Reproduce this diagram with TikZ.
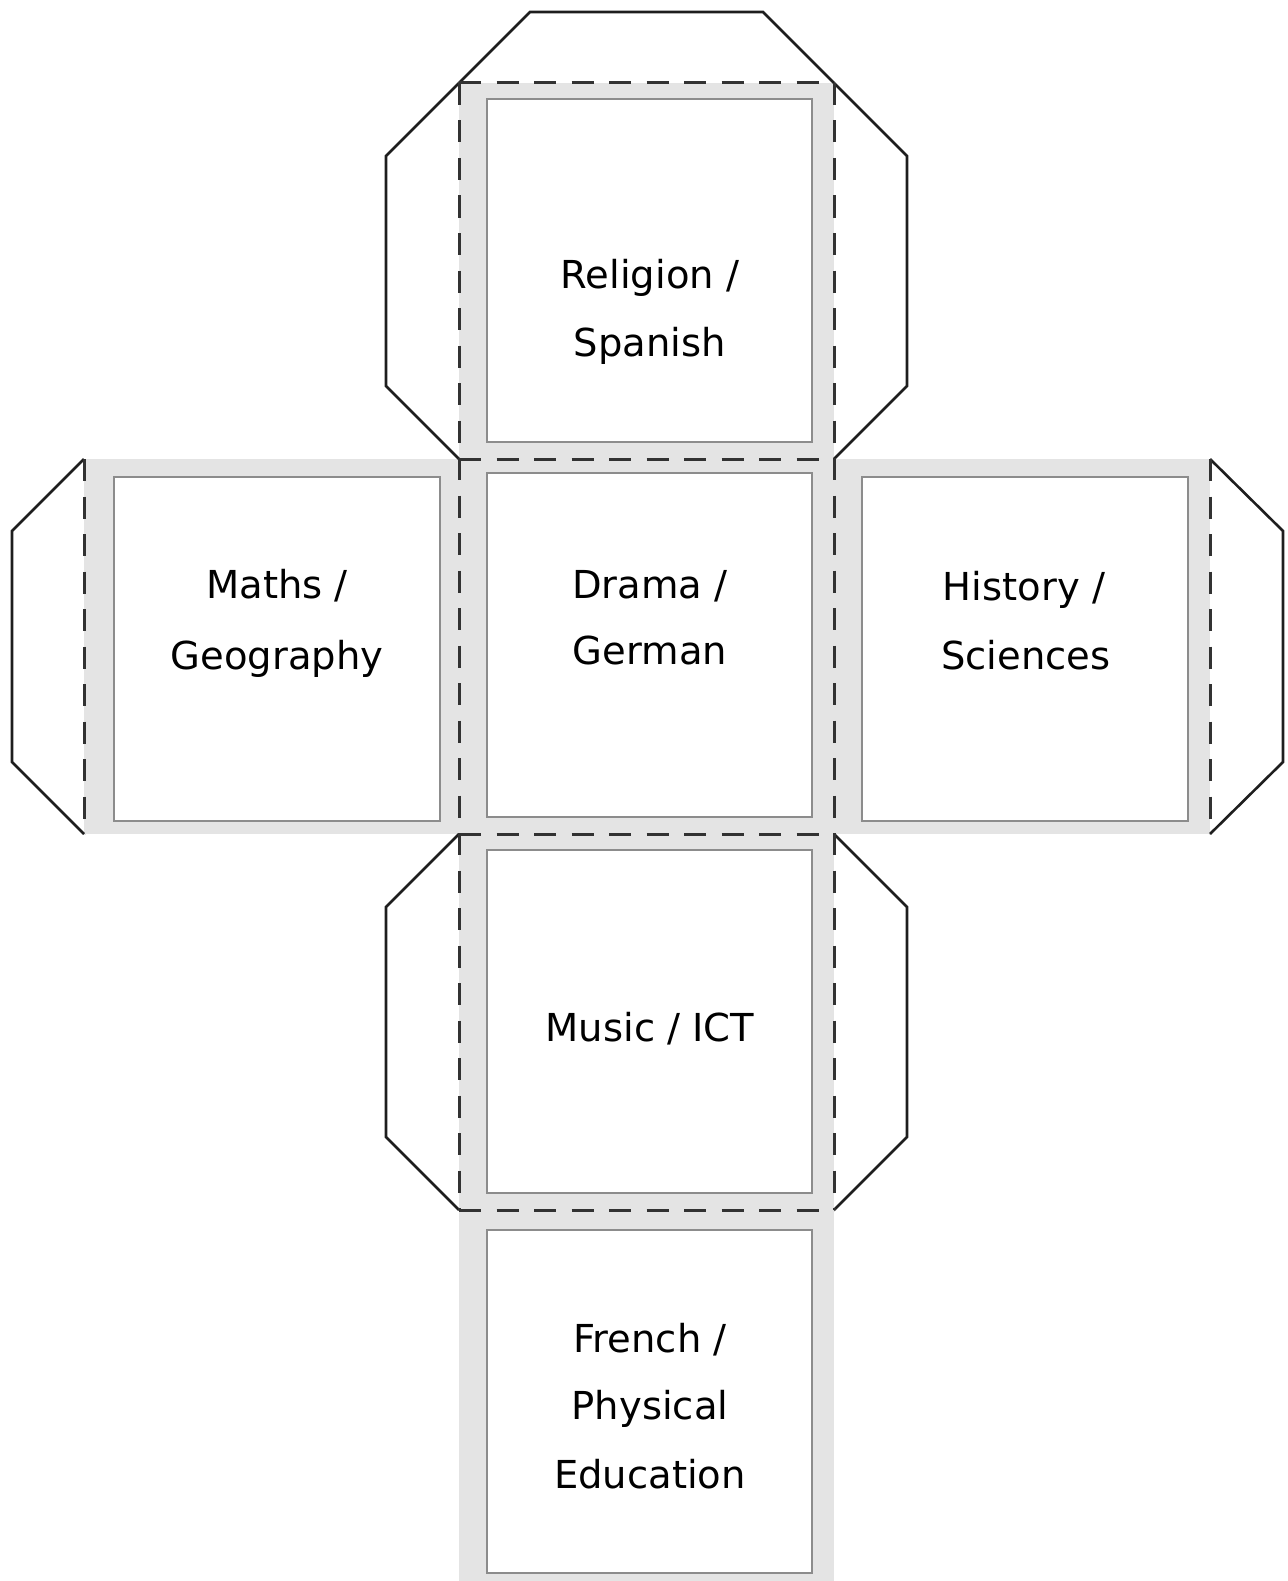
\documentclass[tikz,border=0pt]{standalone}
\usepackage{fontspec}
\setmainfont{DejaVu Sans}
\definecolor{panel}{RGB}{228,228,228}
\definecolor{rim}{RGB}{140,140,140}
\definecolor{ink}{RGB}{30,30,30}
\definecolor{foldink}{RGB}{50,50,50}
\begin{document}
\begin{tikzpicture}[x=1pt,y=-1pt,
  facepanel/.style={fill=panel, draw=none},
  facecard/.style={fill=white, draw=rim, line width=1.5pt},
  flap/.style={draw=ink, line width=2.6pt, line join=miter},
  fold/.style={draw=foldink, line width=3pt, dash pattern=on 22pt off 15.5pt},
  label/.style={anchor=base, font=\fontsize{38.5}{68}\selectfont, text=black, inner sep=0pt}]
\useasboundingbox (0,0) rectangle (1287,1581);

% grey margins of the six faces (cross shape)
\fill[facepanel] (459,83) rectangle (834,1581);
\fill[facepanel] (84,459) rectangle (1210,834);

% white writing areas
\draw[facecard] (487,99)   rectangle (812,442);
\draw[facecard] (114,477)  rectangle (440,821);
\draw[facecard] (487,473)  rectangle (812,817);
\draw[facecard] (862,477)  rectangle (1188,821);
\draw[facecard] (487,850)  rectangle (812,1193);
\draw[facecard] (487,1230) rectangle (812,1573);

% glue flaps
\draw[flap] (459,83) -- (530,12) -- (763,12) -- (834,83);
\draw[flap] (459,83) -- (386,156) -- (386,386) -- (459,459);
\draw[flap] (834,83) -- (907,156) -- (907,386) -- (834,459);
\draw[flap] (84,459) -- (12,531) -- (12,762) -- (84,834);
\draw[flap] (1210,459) -- (1283,531) -- (1283,762) -- (1210,834);
\draw[flap] (459,834) -- (386,907) -- (386,1137) -- (459,1210);
\draw[flap] (834,834) -- (907,907) -- (907,1137) -- (834,1210);

% fold lines
\draw[fold] (459,83) -- (459,1210);
\draw[fold] (834,83) -- (834,1210);
\draw[fold] (459,83) -- (834,83);
\draw[fold] (459,459) -- (834,459);
\draw[fold] (459,834) -- (834,834);
\draw[fold] (459,1210) -- (834,1210);
\draw[fold] (84,459) -- (84,834);
\draw[fold] (1210,459) -- (1210,834);

% subject labels
\node[label] (rel1) at (650,288) {Religion /};
\node[label] (rel2) at (650,356) {Spanish};
\node[label] (mat1) at (277,598) {Maths /};
\node[label] (mat2) at (277,669) {Geography};
\node[label] (dra1) at (650,598) {Drama /};
\node[label] (dra2) at (650,664) {German};
\node[label] (his1) at (1024,600) {History /};
\node[label] (his2) at (1026,669) {Sciences};
\node[label] (mus1) at (650,1041) {Music / ICT};
\node[label] (fre1) at (650,1352) {French /};
\node[label] (fre2) at (650,1419) {Physical};
\node[label] (fre3) at (650,1488) {Education};
\end{tikzpicture}
\end{document}
